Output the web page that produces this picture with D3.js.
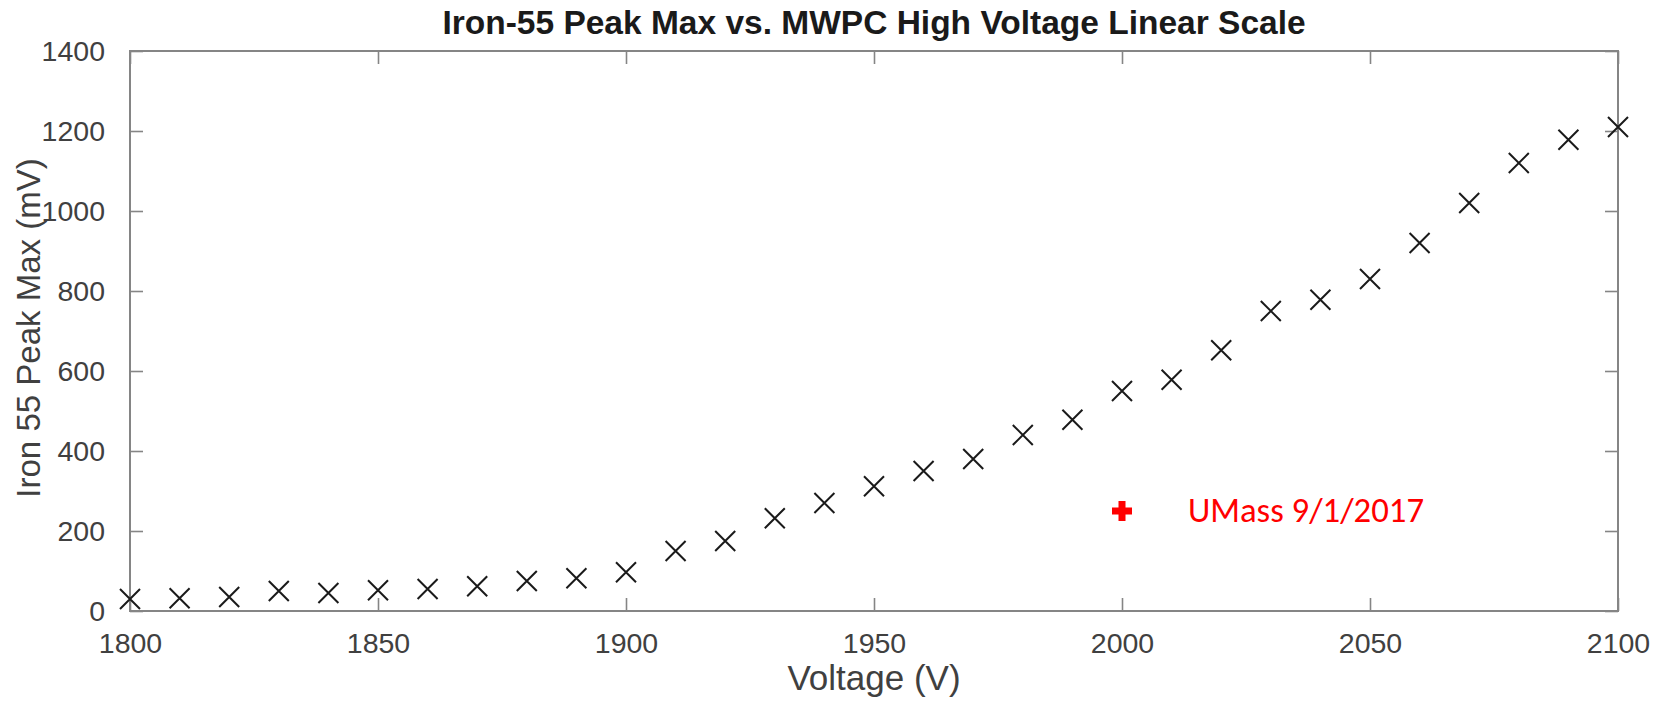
<!DOCTYPE html>
<html>
<head>
<meta charset="utf-8">
<script src="https://cdnjs.cloudflare.com/ajax/libs/d3/7.8.5/d3.min.js"></script>
<style>
  body { margin: 0; background: #fff; }
  svg { display: block; }
</style>
</head>
<body>
<svg id="chart" width="1667" height="702"></svg>
<script>

// data
var voltages = [1800, 1810, 1820, 1830, 1840, 1850, 1860, 1870, 1880, 1890,
                1900, 1910, 1920, 1930, 1940, 1950, 1960, 1970, 1980, 1990,
                2000, 2010, 2020, 2030, 2040, 2050, 2060, 2070, 2080, 2090, 2100];
var peakMax  = [30, 32, 35, 50, 45, 52, 55, 62, 75, 82,
                97, 150, 175, 232, 270, 312, 350, 380, 440, 478,
                550, 578, 652, 750, 778, 830, 920, 1020, 1120, 1178, 1210];

var umassVoltage = [2000];
var umassPeak    = [250];
var umassLabel   = "UMass 9/1/2017";

var xTicks = [1800, 1850, 1900, 1950, 2000, 2050, 2100];
var yTicks = [0, 200, 400, 600, 800, 1000, 1200, 1400];

var titleText = "Iron-55 Peak Max vs. MWPC High Voltage Linear Scale";
var xLabel = "Voltage (V)";
var yLabel = "Iron 55 Peak Max (mV)";


//--------------------------------------
// layout
//--------------------------------------

var svg = d3.select("#chart");
var plotL = 130, plotR = 1618, plotT = 51, plotB = 611;
var fontFamily = "Helvetica, 'Liberation Sans', Arial, sans-serif";
var axisGrey = "#858585";
var textGrey = "#404040";

var x = d3.scaleLinear().domain([1800, 2100]).range([plotL, plotR]);
var y = d3.scaleLinear().domain([0, 1400]).range([plotB, plotT]);


function _styleAxis(g) {
  g.select(".domain").remove();
  g.selectAll(".tick line").attr("stroke", axisGrey).attr("stroke-width", 1.6);
  g.selectAll(".tick text")
    .attr("fill", textGrey)
    .attr("font-family", fontFamily)
    .attr("font-size", 28.5);
}

// bottom axis (ticks point inward)
svg.append("g")
  .attr("transform", "translate(0," + plotB + ")")
  .call(d3.axisBottom(x).tickValues(xTicks).tickFormat(d3.format("d")).tickSizeInner(-13).tickPadding(22))
  .call(_styleAxis);

// top box ticks
svg.append("g")
  .attr("transform", "translate(0," + plotT + ")")
  .call(d3.axisTop(x).tickValues(xTicks).tickFormat("").tickSizeInner(-13))
  .call(_styleAxis);

// left axis
svg.append("g")
  .attr("transform", "translate(" + plotL + ",0)")
  .call(d3.axisLeft(y).tickValues(yTicks).tickFormat(d3.format("d")).tickSizeInner(-13).tickPadding(25))
  .call(_styleAxis);

// right box ticks
svg.append("g")
  .attr("transform", "translate(" + plotR + ",0)")
  .call(d3.axisRight(y).tickValues(yTicks).tickFormat("").tickSizeInner(-13))
  .call(_styleAxis);

// box
svg.append("rect")
  .attr("x", plotL).attr("y", plotT)
  .attr("width", plotR - plotL).attr("height", plotB - plotT)
  .attr("fill", "none")
  .attr("stroke", axisGrey)
  .attr("stroke-width", 2);


// x markers
var r = 10;
var pts = voltages.map(function(v, i) { return { v: v, p: peakMax[i] }; });

svg.append("g").selectAll("path").data(pts).enter().append("path")
  .attr("d", function(d) {
    var cx = x(d.v), cy = y(d.p);
    return "M" + (cx - r) + "," + (cy - r) + "L" + (cx + r) + "," + (cy + r) +
           "M" + (cx - r) + "," + (cy + r) + "L" + (cx + r) + "," + (cy - r);
  })
  .attr("stroke", "#1a1a1a")
  .attr("stroke-width", 2)
  .attr("fill", "none");


// red plus for the UMass point
var umass = umassVoltage.map(function(v, i) { return { v: v, p: umassPeak[i] }; });

svg.append("g").selectAll("path").data(umass).enter().append("path")
  .attr("d", function(d) {
    var cx = x(d.v), cy = y(d.p), h = 10;
    return "M" + (cx - h) + "," + cy + "L" + (cx + h) + "," + cy +
           "M" + cx + "," + (cy - h) + "L" + cx + "," + (cy + h);
  })
  .attr("stroke", "#ff0000")
  .attr("stroke-width", 7)
  .attr("fill", "none");

svg.append("text")
  .attr("x", x(umassVoltage[0]) + 66)
  .attr("y", y(umassPeak[0]) + 11)
  .attr("fill", "#ff0000")
  .attr("font-family", "Carlito, 'Open Sans', 'Noto Sans', sans-serif")
  .attr("font-size", 34)
  .attr("textLength", 236)
  .attr("lengthAdjust", "spacingAndGlyphs")
  .text(umassLabel);


// titles
svg.append("text")
  .attr("x", (plotL + plotR) / 2)
  .attr("y", 34)
  .attr("text-anchor", "middle")
  .attr("font-family", fontFamily)
  .attr("font-weight", "bold")
  .attr("font-size", 33.5)
  .attr("fill", "#1a1a1a")
  .text(titleText);

svg.append("text")
  .attr("x", (plotL + plotR) / 2)
  .attr("y", 690)
  .attr("text-anchor", "middle")
  .attr("font-family", fontFamily)
  .attr("font-size", 35)
  .attr("fill", textGrey)
  .text(xLabel);

svg.append("text")
  .attr("transform", "translate(40," + ((plotT + plotB) / 2 - 3) + ") rotate(-90)")
  .attr("text-anchor", "middle")
  .attr("font-family", fontFamily)
  .attr("font-size", 33)
  .attr("fill", textGrey)
  .text(yLabel);

</script>
</body>
</html>
